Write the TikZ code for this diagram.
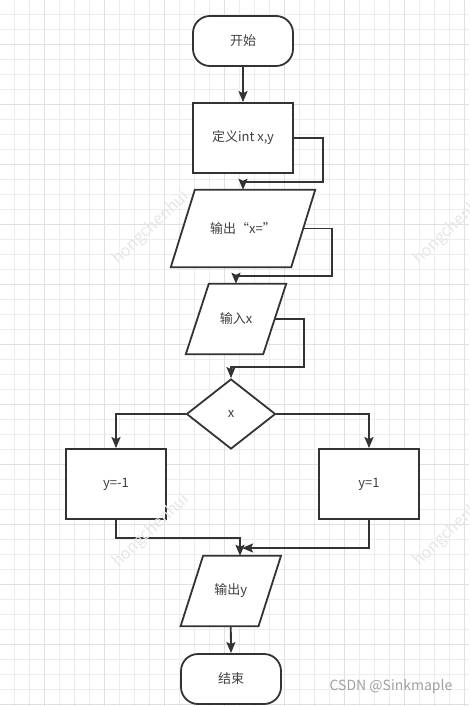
\documentclass[tikz,border=0pt]{standalone}
\usepackage{fontspec}
\setmainfont{Noto Sans CJK SC}
\usetikzlibrary{arrows.meta,shapes.geometric,calc}
\definecolor{ln}{HTML}{333333}
\definecolor{tx}{HTML}{404040}
\definecolor{gminor}{HTML}{EDEDED}
\definecolor{gmajor}{HTML}{E0E0E0}
\definecolor{wm}{HTML}{E6E6E6}
\definecolor{csdn}{HTML}{A0A0A0}
\pgfdeclarelayer{gridl}
\pgfdeclarelayer{shapesl}
\pgfsetlayers{gridl,shapesl,main}
\tikzset{
  lbl/.style={inner sep=0pt, text=tx, font=\fontsize{13}{15}\selectfont},
  box/.style={lbl, draw=ln, line width=1.8pt, fill=white, minimum width=100pt, minimum height=70pt},
  term/.style={box, minimum height=50pt, rounded corners=17pt},
  pnode/.style={lbl, minimum width=100pt, minimum height=70pt},
  para/.style={draw=ln, line width=1.8pt, fill=white, line join=miter},
  dia/.style={lbl, diamond, draw=ln, line width=1.8pt, fill=white, minimum width=89pt, minimum height=70pt, aspect=1.27},
  arr/.style={draw=ln, line width=1.8pt, -{Stealth[length=11pt,width=9pt,inset=2pt]}},
  wmark/.style={text=wm, inner sep=0pt, font=\fontsize{16}{18}\selectfont, rotate=43},
}
\newcommand\paragr[2]{%
  \begin{pgfonlayer}{shapesl}
    \draw[para] ([xshift=#2]#1.north west) -- (#1.north east) -- ([xshift=-#2]#1.south east) -- (#1.south west) -- cycle;
  \end{pgfonlayer}}
\begin{document}
\begin{tikzpicture}[x=1pt,y=-1pt]
\useasboundingbox (0,0) rectangle (469,706);
\begin{pgfonlayer}{gridl}
  \fill[white] (0,0) rectangle (469,706);
  \foreach \g in {14.3,29.3,...,469} {
    \draw[gminor, line width=1pt] (\g,0) -- (\g,706);
  }
  \foreach \g in {14.3,29.3,...,706} {
    \draw[gminor, line width=1pt] (0,\g) -- (469,\g);
  }
  \foreach \g in {44.3,104.3,...,469} {
    \draw[gmajor, line width=1pt] (\g,0) -- (\g,706);
  }
  \foreach \g in {44.3,104.3,...,706} {
    \draw[gmajor, line width=1pt] (0,\g) -- (469,\g);
  }
\end{pgfonlayer}

\node[term] (start) at (243,41) {开始};
\node[box] (def) at (243,138) {定义int x,y};
\node[pnode, minimum width=144pt, minimum height=77pt] (outx) at (243,228.5) {输出“x=”};
\paragr{outx}{24}
\node[pnode] (inx) at (236,319) {输入x};
\paragr{inx}{23}
\node[dia] (dec) at (231,414) {x};
\node[box] (yneg) at (116,484) {y=-1};
\node[box] (ypos) at (369,484) {y=1};
\node[pnode] (outy) at (230.8,591) {输出y};
\paragr{outy}{22.5}
\node[term] (stop) at (231,679) {结束};

\coordinate (k1) at (323,182);
\coordinate (k2) at (332,276);
\coordinate (k3) at (304,367);
\coordinate (k4) at (240,538);
\coordinate (k5) at (242,548);

\draw[arr] (start.south) -- (def.north);
\draw[arr] (def.east) -| (k1) -| (outx.north);
\draw[arr] ([xshift=-12pt]outx.east) -| (k2) -| (inx.north);
\draw[arr] ([xshift=-11.5pt]inx.east) -| (k3) -| (dec.north);
\draw[arr] (dec.west) -| (yneg.north);
\draw[arr] (dec.east) -| (ypos.north);
\draw[arr] (yneg.south) |- (k4) -- (k4 |- outy.north);
\draw[arr] (ypos.south) |- (k5);
\draw[arr] (outy.south) -- (stop.north);

\node[wmark] (w1) at (151,228) {hongchenhui};
\node[wmark] (w2) at (452,228) {hongchenhui};
\node[wmark] (w3) at (151,531) {hongchenhui};
\node[wmark] (w4) at (452,530) {hongchenhui};
\node[text=csdn, inner sep=0pt, font=\fontsize{14}{16}\selectfont] (csdn) at (391,687) {CSDN @Sinkmaple};
\end{tikzpicture}
\end{document}
